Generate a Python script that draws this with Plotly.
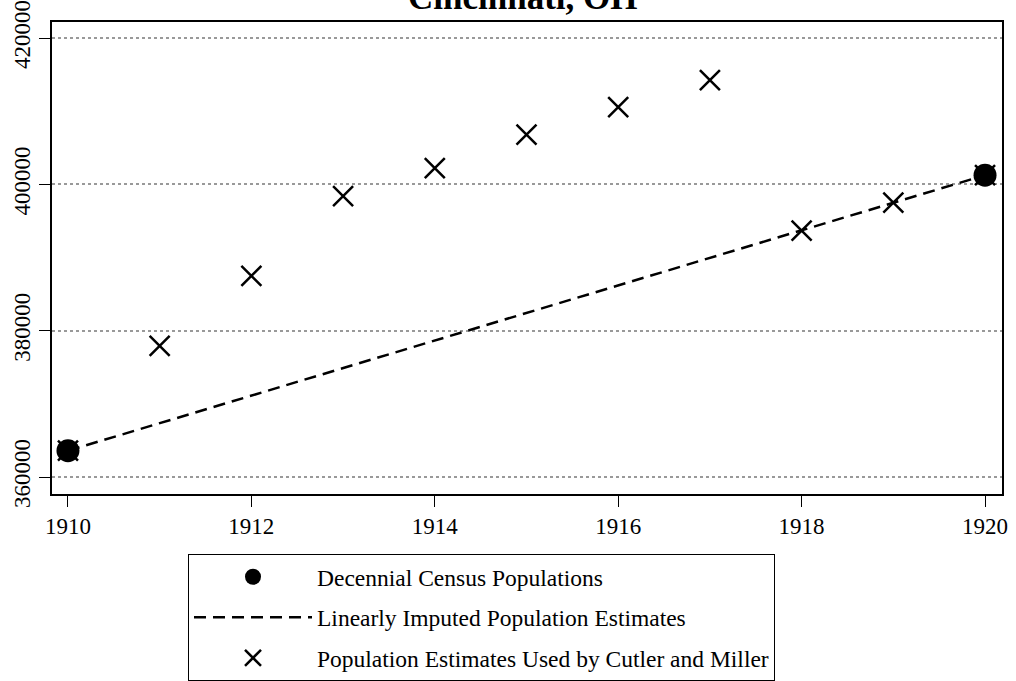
import plotly.graph_objects as go

years_census = [1910, 1920]
pop_census = [363591, 401247]

years_cm = [1910, 1911, 1912, 1913, 1914, 1915, 1916, 1917, 1918, 1919, 1920]
pop_cm = [363591, 377909, 387476, 398401, 402228, 406792, 410565, 414254, 393659, 397485, 401247]

x_ticks = [1910, 1912, 1914, 1916, 1918, 1920]
y_ticks = [360000, 380000, 400000, 420000]

title_text = "Cincinnati, OH"
serif = "Liberation Serif"

fig = go.Figure()
fig.add_trace(go.Scatter(
    x=years_census, y=pop_census, mode="markers",
    name="Decennial Census Populations",
    marker=dict(symbol="circle", size=23, color="black"),
    legendgroup="a",
))
fig.add_trace(go.Scatter(
    x=years_census, y=pop_census, mode="lines",
    name="Linearly Imputed Population Estimates",
    line=dict(color="black", width=2.5, dash="12px,7px"),
    legendgroup="b",
))
fig.add_trace(go.Scatter(
    x=years_cm, y=pop_cm, mode="markers",
    name="Population Estimates Used by Cutler and Miller",
    marker=dict(symbol="x-thin", size=20, color="black",
                line=dict(color="black", width=2.5)),
    legendgroup="c",
))

fig.add_annotation(
    text="<b>" + title_text + "</b>", xref="paper", yref="paper",
    x=0.495, y=(494 - 19) / 472, xanchor="center", yanchor="bottom",
    showarrow=False, font=dict(family=serif, size=35, color="black"),
)

fig.update_layout(
    width=1016, height=681,
    margin=dict(l=52, r=14, t=22, b=187),
    paper_bgcolor="white", plot_bgcolor="white",
    font=dict(family=serif, size=23, color="black"),
    showlegend=True,
    legend=dict(
        xref="paper", yref="container",
        x=(188 - 52) / 950, xanchor="left",
        y=1 - 554 / 681, yanchor="top",
        bordercolor="black", borderwidth=1, bgcolor="white",
        font=dict(family=serif, size=23.5, color="black"),
        itemwidth=118, tracegroupgap=7,
        traceorder="grouped",
    ),
    xaxis=dict(
        range=[1909.826, 1920.185], tickvals=x_ticks,
        showgrid=False, zeroline=False, automargin=False,
        showline=True, linecolor="black", linewidth=1.5, mirror=True,
        ticks="outside", ticklen=11, tickcolor="black", tickwidth=1.2,
        ticklabeloverflow="allow",
        tickfont=dict(family=serif, size=23, color="black"),
    ),
    yaxis=dict(
        range=[357677, 422187], tickvals=y_ticks, tickformat="d",
        showgrid=True, gridcolor="#999999", gridwidth=2, griddash="dot",
        zeroline=False, automargin=False,
        showline=True, linecolor="black", linewidth=1.5, mirror=True,
        ticks="outside", ticklen=11, tickcolor="black", tickwidth=1.2,
        tickangle=-90, ticklabeloverflow="allow",
        tickfont=dict(family=serif, size=23, color="black"),
    ),
)

fig.write_html("out.html", config={"displayModeBar": False},
               post_script="document.body.style.margin='0';")
